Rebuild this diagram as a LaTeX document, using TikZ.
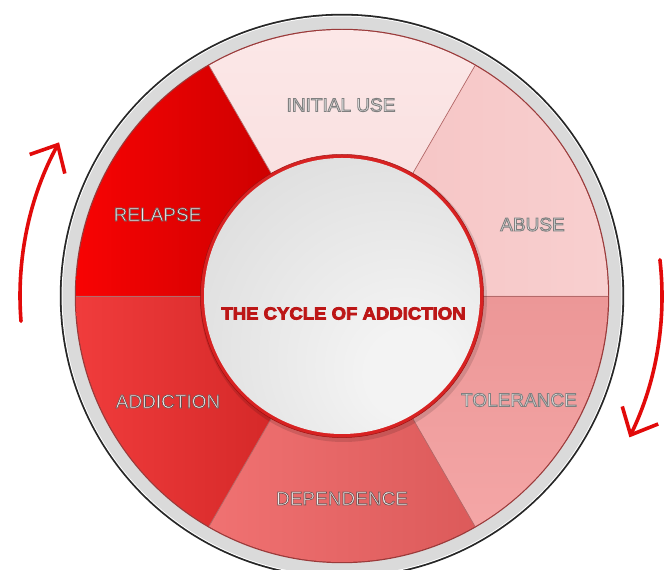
\documentclass[tikz,border=0pt]{standalone}
\usepackage{fontspec}
\setmainfont{Liberation Sans}
\newfontfamily\ctrfont[FakeStretch=1.06]{Liberation Sans Bold}
\usetikzlibrary{arrows.meta,calc}
\definecolor{relL}{HTML}{F80303}
\definecolor{relR}{HTML}{CC0000}
\definecolor{iniL}{HTML}{FCE8E8}
\definecolor{iniR}{HTML}{F9E0E0}
\definecolor{abuL}{HTML}{F6C6C6}
\definecolor{abuR}{HTML}{F8CFCF}
\definecolor{tolT}{HTML}{EC9797}
\definecolor{tolB}{HTML}{F4A6A6}
\definecolor{depL}{HTML}{F07272}
\definecolor{depR}{HTML}{DC5A5A}
\definecolor{addL}{HTML}{F03C3C}
\definecolor{addR}{HTML}{D42828}
\definecolor{ringgray}{HTML}{DADADA}
\definecolor{ringline}{HTML}{9A3A3A}
\definecolor{segline}{HTML}{B46A6A}
\definecolor{innerred}{HTML}{D82222}
\definecolor{darkred}{HTML}{9E1010}
\definecolor{diskL}{HTML}{F3F3F3}
\definecolor{diskM}{HTML}{D9D9D9}
\definecolor{diskD}{HTML}{BBBBBB}
\definecolor{arrowred}{HTML}{E20A0A}
\definecolor{titlered}{HTML}{BC1616}
\definecolor{lightfill}{HTML}{E9E9E9}
\definecolor{darkfill}{HTML}{EDEDED}
\pgfdeclareradialshading{diskshade}{\pgfpoint{14bp}{-16bp}}{color(0bp)=(diskL); color(8bp)=(diskL); color(45bp)=(diskM); color(72bp)=(diskD)}
\newcommand\olt[3]{\special{pdf:literal direct #1 RG #2 w 2 Tr}#3\special{pdf:literal direct 0 Tr}}
\newcommand\seg[3]{\path[#3] ($(c)+(#1:266)$) arc[start angle=#1,end angle=#2,radius=266] -- ($(c)+(#2:120)$) arc[start angle=#2,end angle=#1,radius=120] -- cycle;}
\tikzset{
  lbl/.style={inner sep=0pt, font=\fontsize{19}{19}\selectfont},
  lightlbl/.style={lbl, text=lightfill},
  darklbl/.style={lbl, text=darkfill},
  title/.style={inner sep=0pt, text=titlered, font=\fontsize{17.5}{17.5}\ctrfont},
  cyc/.style={draw=arrowred, line width=3.6pt, line cap=round, -{Straight Barb[length=22pt,width=40pt]}},
  divider/.style={draw=segline, line width=0.7pt}
}
\begin{document}
\begin{tikzpicture}[x=1pt,y=1pt]
\useasboundingbox[fill=white] (0,0) rectangle (670,570);
\coordinate (c) at (342,274);
% outer ring
\fill[black!85] (c) circle[radius=282.2];
\fill[white] (c) circle[radius=280.4];
\fill[ringgray] (c) circle[radius=279.4];
\fill[ringline] (c) circle[radius=267.2];
% segments
\seg{120}{180}{left color=relL, right color=relR}
\seg{60}{120}{top color=iniL, bottom color=iniR}
\seg{0}{60}{left color=abuL, right color=abuR}
\seg{-60}{0}{top color=tolT, bottom color=tolB}
\seg{-120}{-60}{left color=depL, right color=depR}
\seg{180}{240}{left color=addL, right color=addR}
% dividers
\foreach \a in {0,60,120,180,240,300}
  \draw[divider] ($(c)+(\a:135)$) -- ($(c)+(\a:266)$);
% inner disk
\fill[black, opacity=0.12] ($(c)+(1.5,-2.5)$) circle[radius=143.5];
\fill[innerred] (c) circle[radius=141.5];
\shade[shading=diskshade] (c) circle[radius=138];
\draw[darkred, line width=0.5pt] (c) circle[radius=141.6];
% labels
\node[lightlbl] (initial) at (341,465) {\olt{0.5 0.5 0.5}{0.9}{INITIAL USE}};
\node[lightlbl] (abuse) at (532.5,345.5) {\olt{0.5 0.5 0.5}{0.9}{ABUSE}};
\node[lightlbl] (tolerance) at (519,170) {\olt{0.5 0.5 0.5}{0.9}{TOLERANCE}};
\node[darklbl] (dependence) at (342,71.5) {\olt{0.42 0.3 0.3}{0.6}{DEPENDENCE}};
\node[darklbl] (addiction) at (168,168.5) {\olt{0.42 0.3 0.3}{0.6}{ADDICTION}};
\node[darklbl] (relapse) at (157.5,355.5) {\olt{0.42 0.3 0.3}{0.6}{RELAPSE}};
\node[title] (title) at (343.5,256.5) {\olt{0.74 0.09 0.09}{0.8}{THE CYCLE OF ADDICTION}};
% arrows
\coordinate (la) at ($(c)+(184.5:322)$);
\draw[cyc] (la) arc[start angle=184.5, end angle=151.5, radius=322];
\coordinate (ra) at ($(c)+(6.5:320)$);
\draw[cyc] (ra) arc[start angle=6.5, end angle=-26, radius=322];
\end{tikzpicture}
\end{document}
